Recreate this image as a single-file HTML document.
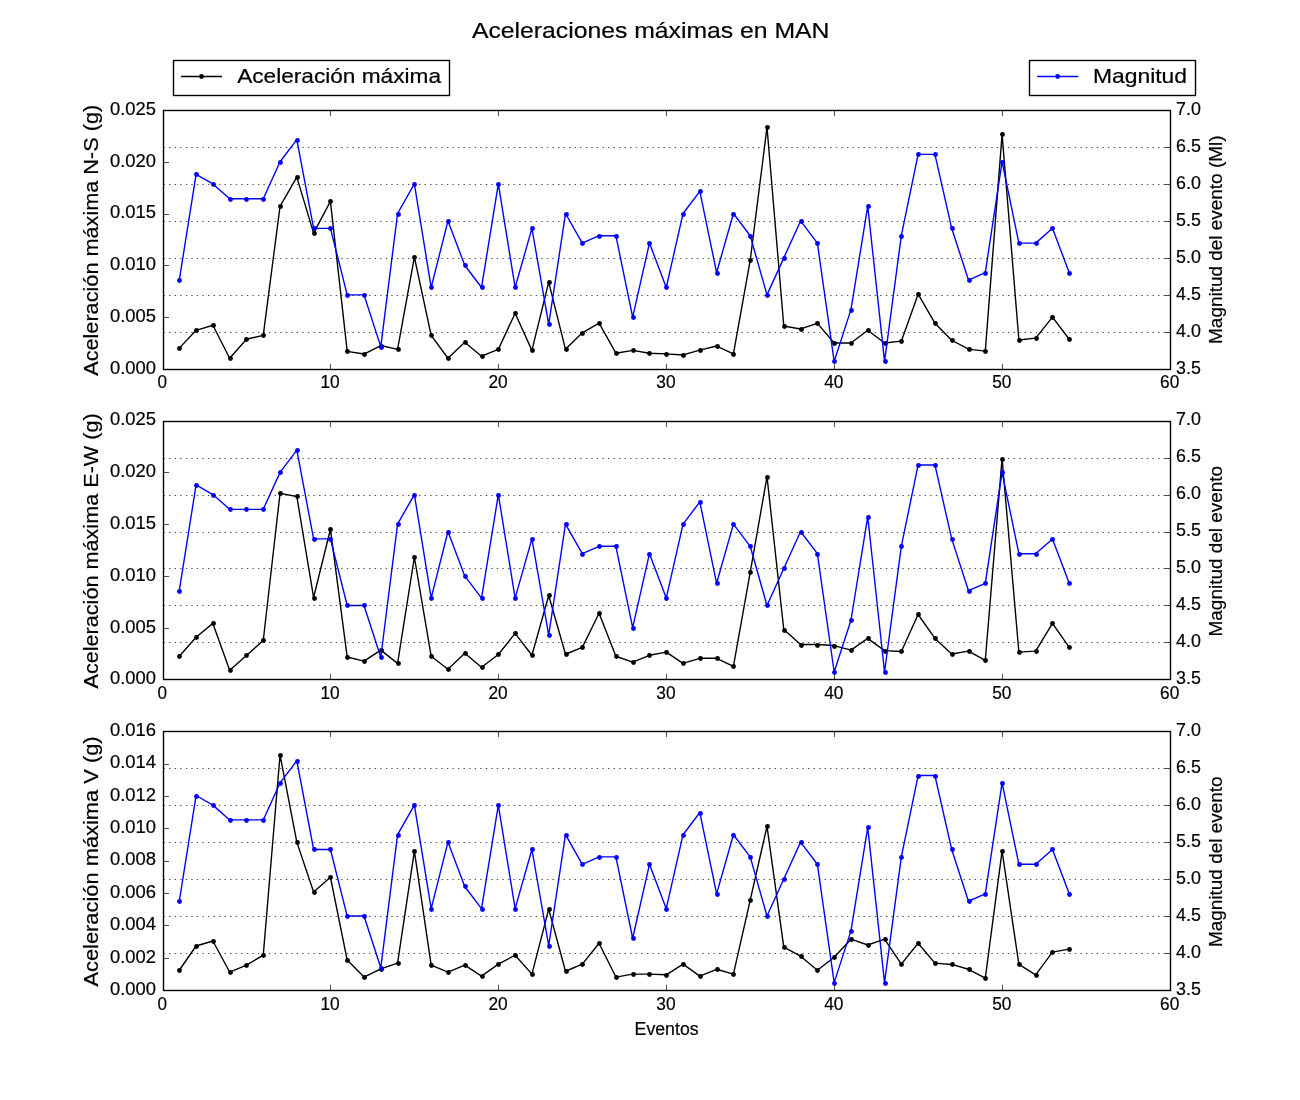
<!DOCTYPE html><html><head><meta charset="utf-8"><style>html,body{margin:0;padding:0;background:#fff;}svg{display:block;will-change:transform;}text{font-family:"Liberation Sans",sans-serif;fill:#000;stroke:#000;stroke-width:0.2px;}</style></head><body>
<svg width="1300" height="1100" viewBox="0 0 1300 1100">
<rect width="1300" height="1100" fill="#fff"/>
<polyline points="179.29,348.11 196.08,330.31 212.88,325.23 229.67,358.26 246.46,339.21 263.25,335.38 280.04,206.38 296.83,177.09 313.62,233.09 330.42,201.31 347.21,351.43 364.00,354.02 380.79,345.53 397.58,349.36 414.38,257.22 431.17,335.38 447.96,358.26 464.75,342.21 481.54,356.19 498.33,349.36 515.12,313.23 531.92,350.39 548.71,282.17 565.50,349.36 582.29,332.79 599.08,323.16 615.88,353.19 632.67,350.39 649.46,353.19 666.25,353.91 683.04,354.95 699.83,350.08 716.62,346.04 733.42,353.91 750.21,260.32 767.00,127.19 783.79,325.96 800.58,328.96 817.38,323.37 834.17,343.04 850.96,343.04 867.75,330.31 884.54,343.04 901.33,341.18 918.12,294.18 934.92,323.16 951.71,340.25 968.50,349.15 985.29,351.12 1002.08,134.33 1018.88,339.94 1035.67,338.18 1052.46,317.06 1069.25,339.21" fill="none" stroke="#000" stroke-width="1.389" stroke-linejoin="round" stroke-linecap="butt"/>
<circle cx="179.5" cy="348.5" r="2.43" fill="#000"/>
<circle cx="196.5" cy="330.5" r="2.43" fill="#000"/>
<circle cx="213.5" cy="325.5" r="2.43" fill="#000"/>
<circle cx="230.5" cy="358.5" r="2.43" fill="#000"/>
<circle cx="246.5" cy="339.5" r="2.43" fill="#000"/>
<circle cx="263.5" cy="335.5" r="2.43" fill="#000"/>
<circle cx="280.5" cy="206.5" r="2.43" fill="#000"/>
<circle cx="297.5" cy="177.5" r="2.43" fill="#000"/>
<circle cx="314.5" cy="233.5" r="2.43" fill="#000"/>
<circle cx="330.5" cy="201.5" r="2.43" fill="#000"/>
<circle cx="347.5" cy="351.5" r="2.43" fill="#000"/>
<circle cx="364.5" cy="354.5" r="2.43" fill="#000"/>
<circle cx="381.5" cy="346.5" r="2.43" fill="#000"/>
<circle cx="398.5" cy="349.5" r="2.43" fill="#000"/>
<circle cx="414.5" cy="257.5" r="2.43" fill="#000"/>
<circle cx="431.5" cy="335.5" r="2.43" fill="#000"/>
<circle cx="448.5" cy="358.5" r="2.43" fill="#000"/>
<circle cx="465.5" cy="342.5" r="2.43" fill="#000"/>
<circle cx="482.5" cy="356.5" r="2.43" fill="#000"/>
<circle cx="498.5" cy="349.5" r="2.43" fill="#000"/>
<circle cx="515.5" cy="313.5" r="2.43" fill="#000"/>
<circle cx="532.5" cy="350.5" r="2.43" fill="#000"/>
<circle cx="549.5" cy="282.5" r="2.43" fill="#000"/>
<circle cx="566.5" cy="349.5" r="2.43" fill="#000"/>
<circle cx="582.5" cy="333.5" r="2.43" fill="#000"/>
<circle cx="599.5" cy="323.5" r="2.43" fill="#000"/>
<circle cx="616.5" cy="353.5" r="2.43" fill="#000"/>
<circle cx="633.5" cy="350.5" r="2.43" fill="#000"/>
<circle cx="649.5" cy="353.5" r="2.43" fill="#000"/>
<circle cx="666.5" cy="354.5" r="2.43" fill="#000"/>
<circle cx="683.5" cy="355.5" r="2.43" fill="#000"/>
<circle cx="700.5" cy="350.5" r="2.43" fill="#000"/>
<circle cx="717.5" cy="346.5" r="2.43" fill="#000"/>
<circle cx="733.5" cy="354.5" r="2.43" fill="#000"/>
<circle cx="750.5" cy="260.5" r="2.43" fill="#000"/>
<circle cx="767.5" cy="127.5" r="2.43" fill="#000"/>
<circle cx="784.5" cy="326.5" r="2.43" fill="#000"/>
<circle cx="801.5" cy="329.5" r="2.43" fill="#000"/>
<circle cx="817.5" cy="323.5" r="2.43" fill="#000"/>
<circle cx="834.5" cy="343.5" r="2.43" fill="#000"/>
<circle cx="851.5" cy="343.5" r="2.43" fill="#000"/>
<circle cx="868.5" cy="330.5" r="2.43" fill="#000"/>
<circle cx="885.5" cy="343.5" r="2.43" fill="#000"/>
<circle cx="901.5" cy="341.5" r="2.43" fill="#000"/>
<circle cx="918.5" cy="294.5" r="2.43" fill="#000"/>
<circle cx="935.5" cy="323.5" r="2.43" fill="#000"/>
<circle cx="952.5" cy="340.5" r="2.43" fill="#000"/>
<circle cx="969.5" cy="349.5" r="2.43" fill="#000"/>
<circle cx="985.5" cy="351.5" r="2.43" fill="#000"/>
<circle cx="1002.5" cy="134.5" r="2.43" fill="#000"/>
<circle cx="1019.5" cy="340.5" r="2.43" fill="#000"/>
<circle cx="1036.5" cy="338.5" r="2.43" fill="#000"/>
<circle cx="1052.5" cy="317.5" r="2.43" fill="#000"/>
<circle cx="1069.5" cy="339.5" r="2.43" fill="#000"/>
<polyline points="179.29,280.08 196.08,174.34 212.88,183.95 229.67,198.74 246.46,198.74 263.25,198.74 280.04,161.76 296.83,139.58 313.62,228.32 330.42,228.32 347.21,294.87 364.00,294.87 380.79,346.64 397.58,213.53 414.38,183.95 431.17,287.48 447.96,220.92 464.75,265.29 481.54,287.48 498.33,183.95 515.12,287.48 531.92,228.32 548.71,324.45 565.50,213.53 582.29,243.11 599.08,235.71 615.88,235.71 632.67,317.06 649.46,243.11 666.25,287.48 683.04,213.53 699.83,191.34 716.62,272.69 733.42,213.53 750.21,235.71 767.00,294.87 783.79,257.90 800.58,220.92 817.38,243.11 834.17,361.43 850.96,309.66 867.75,206.13 884.54,361.43 901.33,235.71 918.12,154.37 934.92,154.37 951.71,228.32 968.50,280.08 985.29,272.69 1002.08,161.76 1018.88,243.11 1035.67,243.11 1052.46,228.32 1069.25,272.69" fill="none" stroke="#0000ff" stroke-width="1.389" stroke-linejoin="round"/>
<circle cx="179.5" cy="280.5" r="2.43" fill="#0000ff"/>
<circle cx="196.5" cy="174.5" r="2.43" fill="#0000ff"/>
<circle cx="213.5" cy="184.5" r="2.43" fill="#0000ff"/>
<circle cx="230.5" cy="199.5" r="2.43" fill="#0000ff"/>
<circle cx="246.5" cy="199.5" r="2.43" fill="#0000ff"/>
<circle cx="263.5" cy="199.5" r="2.43" fill="#0000ff"/>
<circle cx="280.5" cy="162.5" r="2.43" fill="#0000ff"/>
<circle cx="297.5" cy="140.5" r="2.43" fill="#0000ff"/>
<circle cx="314.5" cy="228.5" r="2.43" fill="#0000ff"/>
<circle cx="330.5" cy="228.5" r="2.43" fill="#0000ff"/>
<circle cx="347.5" cy="295.5" r="2.43" fill="#0000ff"/>
<circle cx="364.5" cy="295.5" r="2.43" fill="#0000ff"/>
<circle cx="381.5" cy="347.5" r="2.43" fill="#0000ff"/>
<circle cx="398.5" cy="214.5" r="2.43" fill="#0000ff"/>
<circle cx="414.5" cy="184.5" r="2.43" fill="#0000ff"/>
<circle cx="431.5" cy="287.5" r="2.43" fill="#0000ff"/>
<circle cx="448.5" cy="221.5" r="2.43" fill="#0000ff"/>
<circle cx="465.5" cy="265.5" r="2.43" fill="#0000ff"/>
<circle cx="482.5" cy="287.5" r="2.43" fill="#0000ff"/>
<circle cx="498.5" cy="184.5" r="2.43" fill="#0000ff"/>
<circle cx="515.5" cy="287.5" r="2.43" fill="#0000ff"/>
<circle cx="532.5" cy="228.5" r="2.43" fill="#0000ff"/>
<circle cx="549.5" cy="324.5" r="2.43" fill="#0000ff"/>
<circle cx="566.5" cy="214.5" r="2.43" fill="#0000ff"/>
<circle cx="582.5" cy="243.5" r="2.43" fill="#0000ff"/>
<circle cx="599.5" cy="236.5" r="2.43" fill="#0000ff"/>
<circle cx="616.5" cy="236.5" r="2.43" fill="#0000ff"/>
<circle cx="633.5" cy="317.5" r="2.43" fill="#0000ff"/>
<circle cx="649.5" cy="243.5" r="2.43" fill="#0000ff"/>
<circle cx="666.5" cy="287.5" r="2.43" fill="#0000ff"/>
<circle cx="683.5" cy="214.5" r="2.43" fill="#0000ff"/>
<circle cx="700.5" cy="191.5" r="2.43" fill="#0000ff"/>
<circle cx="717.5" cy="273.5" r="2.43" fill="#0000ff"/>
<circle cx="733.5" cy="214.5" r="2.43" fill="#0000ff"/>
<circle cx="750.5" cy="236.5" r="2.43" fill="#0000ff"/>
<circle cx="767.5" cy="295.5" r="2.43" fill="#0000ff"/>
<circle cx="784.5" cy="258.5" r="2.43" fill="#0000ff"/>
<circle cx="801.5" cy="221.5" r="2.43" fill="#0000ff"/>
<circle cx="817.5" cy="243.5" r="2.43" fill="#0000ff"/>
<circle cx="834.5" cy="361.5" r="2.43" fill="#0000ff"/>
<circle cx="851.5" cy="310.5" r="2.43" fill="#0000ff"/>
<circle cx="868.5" cy="206.5" r="2.43" fill="#0000ff"/>
<circle cx="885.5" cy="361.5" r="2.43" fill="#0000ff"/>
<circle cx="901.5" cy="236.5" r="2.43" fill="#0000ff"/>
<circle cx="918.5" cy="154.5" r="2.43" fill="#0000ff"/>
<circle cx="935.5" cy="154.5" r="2.43" fill="#0000ff"/>
<circle cx="952.5" cy="228.5" r="2.43" fill="#0000ff"/>
<circle cx="969.5" cy="280.5" r="2.43" fill="#0000ff"/>
<circle cx="985.5" cy="273.5" r="2.43" fill="#0000ff"/>
<circle cx="1002.5" cy="162.5" r="2.43" fill="#0000ff"/>
<circle cx="1019.5" cy="243.5" r="2.43" fill="#0000ff"/>
<circle cx="1036.5" cy="243.5" r="2.43" fill="#0000ff"/>
<circle cx="1052.5" cy="228.5" r="2.43" fill="#0000ff"/>
<circle cx="1069.5" cy="273.5" r="2.43" fill="#0000ff"/>
<line x1="163.5" y1="332.5" x2="1170.5" y2="332.5" stroke="#000" stroke-width="0.694" stroke-dasharray="1.389 4.167"/>
<line x1="163.5" y1="295.5" x2="1170.5" y2="295.5" stroke="#000" stroke-width="0.694" stroke-dasharray="1.389 4.167"/>
<line x1="163.5" y1="258.5" x2="1170.5" y2="258.5" stroke="#000" stroke-width="0.694" stroke-dasharray="1.389 4.167"/>
<line x1="163.5" y1="221.5" x2="1170.5" y2="221.5" stroke="#000" stroke-width="0.694" stroke-dasharray="1.389 4.167"/>
<line x1="163.5" y1="184.5" x2="1170.5" y2="184.5" stroke="#000" stroke-width="0.694" stroke-dasharray="1.389 4.167"/>
<line x1="163.5" y1="147.5" x2="1170.5" y2="147.5" stroke="#000" stroke-width="0.694" stroke-dasharray="1.389 4.167"/>
<rect x="163.5" y="110.5" width="1007.0" height="259.0" fill="none" stroke="#000" stroke-width="1.389"/>
<line x1="330.5" y1="369.5" x2="330.5" y2="363.944" stroke="#000" stroke-width="0.694"/>
<line x1="330.5" y1="110.5" x2="330.5" y2="116.056" stroke="#000" stroke-width="0.694"/>
<line x1="498.5" y1="369.5" x2="498.5" y2="363.944" stroke="#000" stroke-width="0.694"/>
<line x1="498.5" y1="110.5" x2="498.5" y2="116.056" stroke="#000" stroke-width="0.694"/>
<line x1="666.5" y1="369.5" x2="666.5" y2="363.944" stroke="#000" stroke-width="0.694"/>
<line x1="666.5" y1="110.5" x2="666.5" y2="116.056" stroke="#000" stroke-width="0.694"/>
<line x1="834.5" y1="369.5" x2="834.5" y2="363.944" stroke="#000" stroke-width="0.694"/>
<line x1="834.5" y1="110.5" x2="834.5" y2="116.056" stroke="#000" stroke-width="0.694"/>
<line x1="1002.5" y1="369.5" x2="1002.5" y2="363.944" stroke="#000" stroke-width="0.694"/>
<line x1="1002.5" y1="110.5" x2="1002.5" y2="116.056" stroke="#000" stroke-width="0.694"/>
<line x1="163.5" y1="317.5" x2="169.056" y2="317.5" stroke="#000" stroke-width="0.694"/>
<line x1="163.5" y1="265.5" x2="169.056" y2="265.5" stroke="#000" stroke-width="0.694"/>
<line x1="163.5" y1="214.5" x2="169.056" y2="214.5" stroke="#000" stroke-width="0.694"/>
<line x1="163.5" y1="162.5" x2="169.056" y2="162.5" stroke="#000" stroke-width="0.694"/>
<line x1="1170.5" y1="332.5" x2="1164.944" y2="332.5" stroke="#000" stroke-width="0.694"/>
<line x1="1170.5" y1="295.5" x2="1164.944" y2="295.5" stroke="#000" stroke-width="0.694"/>
<line x1="1170.5" y1="258.5" x2="1164.944" y2="258.5" stroke="#000" stroke-width="0.694"/>
<line x1="1170.5" y1="221.5" x2="1164.944" y2="221.5" stroke="#000" stroke-width="0.694"/>
<line x1="1170.5" y1="184.5" x2="1164.944" y2="184.5" stroke="#000" stroke-width="0.694"/>
<line x1="1170.5" y1="147.5" x2="1164.944" y2="147.5" stroke="#000" stroke-width="0.694"/>
<text x="156.00" y="373.72" font-size="17.80" textLength="46.00" lengthAdjust="spacingAndGlyphs" text-anchor="end">0.000</text>
<text x="156.00" y="321.96" font-size="17.80" textLength="46.00" lengthAdjust="spacingAndGlyphs" text-anchor="end">0.005</text>
<text x="156.00" y="270.19" font-size="17.80" textLength="46.00" lengthAdjust="spacingAndGlyphs" text-anchor="end">0.010</text>
<text x="156.00" y="218.43" font-size="17.80" textLength="46.00" lengthAdjust="spacingAndGlyphs" text-anchor="end">0.015</text>
<text x="156.00" y="166.66" font-size="17.80" textLength="46.00" lengthAdjust="spacingAndGlyphs" text-anchor="end">0.020</text>
<text x="156.00" y="114.90" font-size="17.80" textLength="46.00" lengthAdjust="spacingAndGlyphs" text-anchor="end">0.025</text>
<text x="1176.00" y="373.72" font-size="17.80" textLength="24.80" lengthAdjust="spacingAndGlyphs">3.5</text>
<text x="1176.00" y="336.75" font-size="17.80" textLength="24.80" lengthAdjust="spacingAndGlyphs">4.0</text>
<text x="1176.00" y="299.77" font-size="17.80" textLength="24.80" lengthAdjust="spacingAndGlyphs">4.5</text>
<text x="1176.00" y="262.80" font-size="17.80" textLength="24.80" lengthAdjust="spacingAndGlyphs">5.0</text>
<text x="1176.00" y="225.82" font-size="17.80" textLength="24.80" lengthAdjust="spacingAndGlyphs">5.5</text>
<text x="1176.00" y="188.85" font-size="17.80" textLength="24.80" lengthAdjust="spacingAndGlyphs">6.0</text>
<text x="1176.00" y="151.87" font-size="17.80" textLength="24.80" lengthAdjust="spacingAndGlyphs">6.5</text>
<text x="1176.00" y="114.90" font-size="17.80" textLength="24.80" lengthAdjust="spacingAndGlyphs">7.0</text>
<text x="157.45" y="387.70" font-size="17.80" textLength="9.50" lengthAdjust="spacingAndGlyphs">0</text>
<text x="320.52" y="387.70" font-size="17.80" textLength="19.20" lengthAdjust="spacingAndGlyphs">10</text>
<text x="488.43" y="387.70" font-size="17.80" textLength="19.20" lengthAdjust="spacingAndGlyphs">20</text>
<text x="656.35" y="387.70" font-size="17.80" textLength="19.20" lengthAdjust="spacingAndGlyphs">30</text>
<text x="824.27" y="387.70" font-size="17.80" textLength="19.20" lengthAdjust="spacingAndGlyphs">40</text>
<text x="992.18" y="387.70" font-size="17.80" textLength="19.20" lengthAdjust="spacingAndGlyphs">50</text>
<text x="1160.10" y="387.70" font-size="17.80" textLength="19.20" lengthAdjust="spacingAndGlyphs">60</text>
<text x="97.80" y="375.81" font-size="19.50" textLength="271.00" lengthAdjust="spacingAndGlyphs" transform="rotate(-90 97.80 375.81)">Aceleración máxima N-S (g)</text>
<text x="1222.00" y="343.91" font-size="18.50" textLength="208.40" lengthAdjust="spacingAndGlyphs" transform="rotate(-90 1222.00 343.91)">Magnitud del evento (Ml)</text>
<polyline points="179.29,656.22 196.08,637.17 212.88,623.40 229.67,670.30 246.46,655.50 263.25,640.48 280.04,493.37 296.83,496.48 313.62,597.52 330.42,529.29 347.21,657.05 364.00,661.09 380.79,650.11 397.58,663.36 414.38,557.25 431.17,656.22 447.96,669.26 464.75,653.22 481.54,667.19 498.33,654.46 515.12,633.44 531.92,655.29 548.71,595.45 565.50,654.25 582.29,647.32 599.08,613.26 615.88,656.22 632.67,662.12 649.46,655.29 666.25,652.18 683.04,663.36 699.83,658.29 716.62,658.29 733.42,666.47 750.21,572.26 767.00,476.60 783.79,629.51 800.58,644.52 817.38,644.52 834.17,645.56 850.96,650.11 867.75,638.41 884.54,650.63 901.33,651.46 918.12,614.50 934.92,638.41 951.71,653.94 968.50,651.15 985.29,660.36 1002.08,458.58 1018.88,652.18 1035.67,651.15 1052.46,623.40 1069.25,647.32" fill="none" stroke="#000" stroke-width="1.389" stroke-linejoin="round" stroke-linecap="butt"/>
<circle cx="179.5" cy="656.5" r="2.43" fill="#000"/>
<circle cx="196.5" cy="637.5" r="2.43" fill="#000"/>
<circle cx="213.5" cy="623.5" r="2.43" fill="#000"/>
<circle cx="230.5" cy="670.5" r="2.43" fill="#000"/>
<circle cx="246.5" cy="655.5" r="2.43" fill="#000"/>
<circle cx="263.5" cy="640.5" r="2.43" fill="#000"/>
<circle cx="280.5" cy="493.5" r="2.43" fill="#000"/>
<circle cx="297.5" cy="496.5" r="2.43" fill="#000"/>
<circle cx="314.5" cy="598.5" r="2.43" fill="#000"/>
<circle cx="330.5" cy="529.5" r="2.43" fill="#000"/>
<circle cx="347.5" cy="657.5" r="2.43" fill="#000"/>
<circle cx="364.5" cy="661.5" r="2.43" fill="#000"/>
<circle cx="381.5" cy="650.5" r="2.43" fill="#000"/>
<circle cx="398.5" cy="663.5" r="2.43" fill="#000"/>
<circle cx="414.5" cy="557.5" r="2.43" fill="#000"/>
<circle cx="431.5" cy="656.5" r="2.43" fill="#000"/>
<circle cx="448.5" cy="669.5" r="2.43" fill="#000"/>
<circle cx="465.5" cy="653.5" r="2.43" fill="#000"/>
<circle cx="482.5" cy="667.5" r="2.43" fill="#000"/>
<circle cx="498.5" cy="654.5" r="2.43" fill="#000"/>
<circle cx="515.5" cy="633.5" r="2.43" fill="#000"/>
<circle cx="532.5" cy="655.5" r="2.43" fill="#000"/>
<circle cx="549.5" cy="595.5" r="2.43" fill="#000"/>
<circle cx="566.5" cy="654.5" r="2.43" fill="#000"/>
<circle cx="582.5" cy="647.5" r="2.43" fill="#000"/>
<circle cx="599.5" cy="613.5" r="2.43" fill="#000"/>
<circle cx="616.5" cy="656.5" r="2.43" fill="#000"/>
<circle cx="633.5" cy="662.5" r="2.43" fill="#000"/>
<circle cx="649.5" cy="655.5" r="2.43" fill="#000"/>
<circle cx="666.5" cy="652.5" r="2.43" fill="#000"/>
<circle cx="683.5" cy="663.5" r="2.43" fill="#000"/>
<circle cx="700.5" cy="658.5" r="2.43" fill="#000"/>
<circle cx="717.5" cy="658.5" r="2.43" fill="#000"/>
<circle cx="733.5" cy="666.5" r="2.43" fill="#000"/>
<circle cx="750.5" cy="572.5" r="2.43" fill="#000"/>
<circle cx="767.5" cy="477.5" r="2.43" fill="#000"/>
<circle cx="784.5" cy="630.5" r="2.43" fill="#000"/>
<circle cx="801.5" cy="645.5" r="2.43" fill="#000"/>
<circle cx="817.5" cy="645.5" r="2.43" fill="#000"/>
<circle cx="834.5" cy="646.5" r="2.43" fill="#000"/>
<circle cx="851.5" cy="650.5" r="2.43" fill="#000"/>
<circle cx="868.5" cy="638.5" r="2.43" fill="#000"/>
<circle cx="885.5" cy="651.5" r="2.43" fill="#000"/>
<circle cx="901.5" cy="651.5" r="2.43" fill="#000"/>
<circle cx="918.5" cy="614.5" r="2.43" fill="#000"/>
<circle cx="935.5" cy="638.5" r="2.43" fill="#000"/>
<circle cx="952.5" cy="654.5" r="2.43" fill="#000"/>
<circle cx="969.5" cy="651.5" r="2.43" fill="#000"/>
<circle cx="985.5" cy="660.5" r="2.43" fill="#000"/>
<circle cx="1002.5" cy="459.5" r="2.43" fill="#000"/>
<circle cx="1019.5" cy="652.5" r="2.43" fill="#000"/>
<circle cx="1036.5" cy="651.5" r="2.43" fill="#000"/>
<circle cx="1052.5" cy="623.5" r="2.43" fill="#000"/>
<circle cx="1069.5" cy="647.5" r="2.43" fill="#000"/>
<polyline points="179.29,590.67 196.08,484.93 212.88,494.54 229.67,509.33 246.46,509.33 263.25,509.33 280.04,472.35 296.83,450.17 313.62,538.91 330.42,538.91 347.21,605.46 364.00,605.46 380.79,657.23 397.58,524.12 414.38,494.54 431.17,598.07 447.96,531.51 464.75,575.88 481.54,598.07 498.33,494.54 515.12,598.07 531.92,538.91 548.71,635.04 565.50,524.12 582.29,553.70 599.08,546.30 615.88,546.30 632.67,627.65 649.46,553.70 666.25,598.07 683.04,524.12 699.83,501.93 716.62,583.28 733.42,524.12 750.21,546.30 767.00,605.46 783.79,568.49 800.58,531.51 817.38,553.70 834.17,672.02 850.96,620.25 867.75,516.72 884.54,672.02 901.33,546.30 918.12,464.96 934.92,464.96 951.71,538.91 968.50,590.67 985.29,583.28 1002.08,472.35 1018.88,553.70 1035.67,553.70 1052.46,538.91 1069.25,583.28" fill="none" stroke="#0000ff" stroke-width="1.389" stroke-linejoin="round"/>
<circle cx="179.5" cy="591.5" r="2.43" fill="#0000ff"/>
<circle cx="196.5" cy="485.5" r="2.43" fill="#0000ff"/>
<circle cx="213.5" cy="495.5" r="2.43" fill="#0000ff"/>
<circle cx="230.5" cy="509.5" r="2.43" fill="#0000ff"/>
<circle cx="246.5" cy="509.5" r="2.43" fill="#0000ff"/>
<circle cx="263.5" cy="509.5" r="2.43" fill="#0000ff"/>
<circle cx="280.5" cy="472.5" r="2.43" fill="#0000ff"/>
<circle cx="297.5" cy="450.5" r="2.43" fill="#0000ff"/>
<circle cx="314.5" cy="539.5" r="2.43" fill="#0000ff"/>
<circle cx="330.5" cy="539.5" r="2.43" fill="#0000ff"/>
<circle cx="347.5" cy="605.5" r="2.43" fill="#0000ff"/>
<circle cx="364.5" cy="605.5" r="2.43" fill="#0000ff"/>
<circle cx="381.5" cy="657.5" r="2.43" fill="#0000ff"/>
<circle cx="398.5" cy="524.5" r="2.43" fill="#0000ff"/>
<circle cx="414.5" cy="495.5" r="2.43" fill="#0000ff"/>
<circle cx="431.5" cy="598.5" r="2.43" fill="#0000ff"/>
<circle cx="448.5" cy="532.5" r="2.43" fill="#0000ff"/>
<circle cx="465.5" cy="576.5" r="2.43" fill="#0000ff"/>
<circle cx="482.5" cy="598.5" r="2.43" fill="#0000ff"/>
<circle cx="498.5" cy="495.5" r="2.43" fill="#0000ff"/>
<circle cx="515.5" cy="598.5" r="2.43" fill="#0000ff"/>
<circle cx="532.5" cy="539.5" r="2.43" fill="#0000ff"/>
<circle cx="549.5" cy="635.5" r="2.43" fill="#0000ff"/>
<circle cx="566.5" cy="524.5" r="2.43" fill="#0000ff"/>
<circle cx="582.5" cy="554.5" r="2.43" fill="#0000ff"/>
<circle cx="599.5" cy="546.5" r="2.43" fill="#0000ff"/>
<circle cx="616.5" cy="546.5" r="2.43" fill="#0000ff"/>
<circle cx="633.5" cy="628.5" r="2.43" fill="#0000ff"/>
<circle cx="649.5" cy="554.5" r="2.43" fill="#0000ff"/>
<circle cx="666.5" cy="598.5" r="2.43" fill="#0000ff"/>
<circle cx="683.5" cy="524.5" r="2.43" fill="#0000ff"/>
<circle cx="700.5" cy="502.5" r="2.43" fill="#0000ff"/>
<circle cx="717.5" cy="583.5" r="2.43" fill="#0000ff"/>
<circle cx="733.5" cy="524.5" r="2.43" fill="#0000ff"/>
<circle cx="750.5" cy="546.5" r="2.43" fill="#0000ff"/>
<circle cx="767.5" cy="605.5" r="2.43" fill="#0000ff"/>
<circle cx="784.5" cy="568.5" r="2.43" fill="#0000ff"/>
<circle cx="801.5" cy="532.5" r="2.43" fill="#0000ff"/>
<circle cx="817.5" cy="554.5" r="2.43" fill="#0000ff"/>
<circle cx="834.5" cy="672.5" r="2.43" fill="#0000ff"/>
<circle cx="851.5" cy="620.5" r="2.43" fill="#0000ff"/>
<circle cx="868.5" cy="517.5" r="2.43" fill="#0000ff"/>
<circle cx="885.5" cy="672.5" r="2.43" fill="#0000ff"/>
<circle cx="901.5" cy="546.5" r="2.43" fill="#0000ff"/>
<circle cx="918.5" cy="465.5" r="2.43" fill="#0000ff"/>
<circle cx="935.5" cy="465.5" r="2.43" fill="#0000ff"/>
<circle cx="952.5" cy="539.5" r="2.43" fill="#0000ff"/>
<circle cx="969.5" cy="591.5" r="2.43" fill="#0000ff"/>
<circle cx="985.5" cy="583.5" r="2.43" fill="#0000ff"/>
<circle cx="1002.5" cy="472.5" r="2.43" fill="#0000ff"/>
<circle cx="1019.5" cy="554.5" r="2.43" fill="#0000ff"/>
<circle cx="1036.5" cy="554.5" r="2.43" fill="#0000ff"/>
<circle cx="1052.5" cy="539.5" r="2.43" fill="#0000ff"/>
<circle cx="1069.5" cy="583.5" r="2.43" fill="#0000ff"/>
<line x1="163.5" y1="642.5" x2="1170.5" y2="642.5" stroke="#000" stroke-width="0.694" stroke-dasharray="1.389 4.167"/>
<line x1="163.5" y1="605.5" x2="1170.5" y2="605.5" stroke="#000" stroke-width="0.694" stroke-dasharray="1.389 4.167"/>
<line x1="163.5" y1="568.5" x2="1170.5" y2="568.5" stroke="#000" stroke-width="0.694" stroke-dasharray="1.389 4.167"/>
<line x1="163.5" y1="532.5" x2="1170.5" y2="532.5" stroke="#000" stroke-width="0.694" stroke-dasharray="1.389 4.167"/>
<line x1="163.5" y1="495.5" x2="1170.5" y2="495.5" stroke="#000" stroke-width="0.694" stroke-dasharray="1.389 4.167"/>
<line x1="163.5" y1="458.5" x2="1170.5" y2="458.5" stroke="#000" stroke-width="0.694" stroke-dasharray="1.389 4.167"/>
<rect x="163.5" y="421.5" width="1007.0" height="258.0" fill="none" stroke="#000" stroke-width="1.389"/>
<line x1="330.5" y1="679.5" x2="330.5" y2="673.944" stroke="#000" stroke-width="0.694"/>
<line x1="330.5" y1="421.5" x2="330.5" y2="427.056" stroke="#000" stroke-width="0.694"/>
<line x1="498.5" y1="679.5" x2="498.5" y2="673.944" stroke="#000" stroke-width="0.694"/>
<line x1="498.5" y1="421.5" x2="498.5" y2="427.056" stroke="#000" stroke-width="0.694"/>
<line x1="666.5" y1="679.5" x2="666.5" y2="673.944" stroke="#000" stroke-width="0.694"/>
<line x1="666.5" y1="421.5" x2="666.5" y2="427.056" stroke="#000" stroke-width="0.694"/>
<line x1="834.5" y1="679.5" x2="834.5" y2="673.944" stroke="#000" stroke-width="0.694"/>
<line x1="834.5" y1="421.5" x2="834.5" y2="427.056" stroke="#000" stroke-width="0.694"/>
<line x1="1002.5" y1="679.5" x2="1002.5" y2="673.944" stroke="#000" stroke-width="0.694"/>
<line x1="1002.5" y1="421.5" x2="1002.5" y2="427.056" stroke="#000" stroke-width="0.694"/>
<line x1="163.5" y1="628.5" x2="169.056" y2="628.5" stroke="#000" stroke-width="0.694"/>
<line x1="163.5" y1="576.5" x2="169.056" y2="576.5" stroke="#000" stroke-width="0.694"/>
<line x1="163.5" y1="524.5" x2="169.056" y2="524.5" stroke="#000" stroke-width="0.694"/>
<line x1="163.5" y1="472.5" x2="169.056" y2="472.5" stroke="#000" stroke-width="0.694"/>
<line x1="1170.5" y1="642.5" x2="1164.944" y2="642.5" stroke="#000" stroke-width="0.694"/>
<line x1="1170.5" y1="605.5" x2="1164.944" y2="605.5" stroke="#000" stroke-width="0.694"/>
<line x1="1170.5" y1="568.5" x2="1164.944" y2="568.5" stroke="#000" stroke-width="0.694"/>
<line x1="1170.5" y1="532.5" x2="1164.944" y2="532.5" stroke="#000" stroke-width="0.694"/>
<line x1="1170.5" y1="495.5" x2="1164.944" y2="495.5" stroke="#000" stroke-width="0.694"/>
<line x1="1170.5" y1="458.5" x2="1164.944" y2="458.5" stroke="#000" stroke-width="0.694"/>
<text x="156.00" y="684.31" font-size="17.80" textLength="46.00" lengthAdjust="spacingAndGlyphs" text-anchor="end">0.000</text>
<text x="156.00" y="632.55" font-size="17.80" textLength="46.00" lengthAdjust="spacingAndGlyphs" text-anchor="end">0.005</text>
<text x="156.00" y="580.78" font-size="17.80" textLength="46.00" lengthAdjust="spacingAndGlyphs" text-anchor="end">0.010</text>
<text x="156.00" y="529.02" font-size="17.80" textLength="46.00" lengthAdjust="spacingAndGlyphs" text-anchor="end">0.015</text>
<text x="156.00" y="477.25" font-size="17.80" textLength="46.00" lengthAdjust="spacingAndGlyphs" text-anchor="end">0.020</text>
<text x="156.00" y="425.49" font-size="17.80" textLength="46.00" lengthAdjust="spacingAndGlyphs" text-anchor="end">0.025</text>
<text x="1176.00" y="684.31" font-size="17.80" textLength="24.80" lengthAdjust="spacingAndGlyphs">3.5</text>
<text x="1176.00" y="647.34" font-size="17.80" textLength="24.80" lengthAdjust="spacingAndGlyphs">4.0</text>
<text x="1176.00" y="610.36" font-size="17.80" textLength="24.80" lengthAdjust="spacingAndGlyphs">4.5</text>
<text x="1176.00" y="573.39" font-size="17.80" textLength="24.80" lengthAdjust="spacingAndGlyphs">5.0</text>
<text x="1176.00" y="536.41" font-size="17.80" textLength="24.80" lengthAdjust="spacingAndGlyphs">5.5</text>
<text x="1176.00" y="499.44" font-size="17.80" textLength="24.80" lengthAdjust="spacingAndGlyphs">6.0</text>
<text x="1176.00" y="462.46" font-size="17.80" textLength="24.80" lengthAdjust="spacingAndGlyphs">6.5</text>
<text x="1176.00" y="425.49" font-size="17.80" textLength="24.80" lengthAdjust="spacingAndGlyphs">7.0</text>
<text x="157.45" y="698.60" font-size="17.80" textLength="9.50" lengthAdjust="spacingAndGlyphs">0</text>
<text x="320.52" y="698.60" font-size="17.80" textLength="19.20" lengthAdjust="spacingAndGlyphs">10</text>
<text x="488.43" y="698.60" font-size="17.80" textLength="19.20" lengthAdjust="spacingAndGlyphs">20</text>
<text x="656.35" y="698.60" font-size="17.80" textLength="19.20" lengthAdjust="spacingAndGlyphs">30</text>
<text x="824.27" y="698.60" font-size="17.80" textLength="19.20" lengthAdjust="spacingAndGlyphs">40</text>
<text x="992.18" y="698.60" font-size="17.80" textLength="19.20" lengthAdjust="spacingAndGlyphs">50</text>
<text x="1160.10" y="698.60" font-size="17.80" textLength="19.20" lengthAdjust="spacingAndGlyphs">60</text>
<text x="97.80" y="688.55" font-size="19.50" textLength="275.30" lengthAdjust="spacingAndGlyphs" transform="rotate(-90 97.80 688.55)">Aceleración máxima E-W (g)</text>
<text x="1222.00" y="636.45" font-size="18.50" textLength="170.60" lengthAdjust="spacingAndGlyphs" transform="rotate(-90 1222.00 636.45)">Magnitud del evento</text>
<polyline points="179.29,970.26 196.08,946.00 212.88,940.99 229.67,972.04 246.46,965.09 263.25,955.22 280.04,754.96 296.83,842.15 313.62,891.97 330.42,877.25 347.21,960.07 364.00,977.06 380.79,968.81 397.58,963.15 414.38,851.05 431.17,965.09 447.96,972.04 464.75,965.09 481.54,976.09 498.33,964.12 515.12,955.22 531.92,974.15 548.71,909.12 565.50,971.24 582.29,964.12 599.08,943.25 615.88,977.06 632.67,974.15 649.46,974.15 666.25,974.79 683.04,964.12 699.83,976.09 716.62,969.29 733.42,974.15 750.21,900.22 767.00,826.30 783.79,947.13 800.58,956.19 817.38,970.26 834.17,957.32 850.96,939.21 867.75,945.03 884.54,939.21 901.33,964.12 918.12,943.25 934.92,963.15 951.71,964.44 968.50,969.29 985.29,978.19 1002.08,851.05 1018.88,964.44 1035.67,974.79 1052.46,952.15 1069.25,949.07" fill="none" stroke="#000" stroke-width="1.389" stroke-linejoin="round" stroke-linecap="butt"/>
<circle cx="179.5" cy="970.5" r="2.43" fill="#000"/>
<circle cx="196.5" cy="946.5" r="2.43" fill="#000"/>
<circle cx="213.5" cy="941.5" r="2.43" fill="#000"/>
<circle cx="230.5" cy="972.5" r="2.43" fill="#000"/>
<circle cx="246.5" cy="965.5" r="2.43" fill="#000"/>
<circle cx="263.5" cy="955.5" r="2.43" fill="#000"/>
<circle cx="280.5" cy="755.5" r="2.43" fill="#000"/>
<circle cx="297.5" cy="842.5" r="2.43" fill="#000"/>
<circle cx="314.5" cy="892.5" r="2.43" fill="#000"/>
<circle cx="330.5" cy="877.5" r="2.43" fill="#000"/>
<circle cx="347.5" cy="960.5" r="2.43" fill="#000"/>
<circle cx="364.5" cy="977.5" r="2.43" fill="#000"/>
<circle cx="381.5" cy="969.5" r="2.43" fill="#000"/>
<circle cx="398.5" cy="963.5" r="2.43" fill="#000"/>
<circle cx="414.5" cy="851.5" r="2.43" fill="#000"/>
<circle cx="431.5" cy="965.5" r="2.43" fill="#000"/>
<circle cx="448.5" cy="972.5" r="2.43" fill="#000"/>
<circle cx="465.5" cy="965.5" r="2.43" fill="#000"/>
<circle cx="482.5" cy="976.5" r="2.43" fill="#000"/>
<circle cx="498.5" cy="964.5" r="2.43" fill="#000"/>
<circle cx="515.5" cy="955.5" r="2.43" fill="#000"/>
<circle cx="532.5" cy="974.5" r="2.43" fill="#000"/>
<circle cx="549.5" cy="909.5" r="2.43" fill="#000"/>
<circle cx="566.5" cy="971.5" r="2.43" fill="#000"/>
<circle cx="582.5" cy="964.5" r="2.43" fill="#000"/>
<circle cx="599.5" cy="943.5" r="2.43" fill="#000"/>
<circle cx="616.5" cy="977.5" r="2.43" fill="#000"/>
<circle cx="633.5" cy="974.5" r="2.43" fill="#000"/>
<circle cx="649.5" cy="974.5" r="2.43" fill="#000"/>
<circle cx="666.5" cy="975.5" r="2.43" fill="#000"/>
<circle cx="683.5" cy="964.5" r="2.43" fill="#000"/>
<circle cx="700.5" cy="976.5" r="2.43" fill="#000"/>
<circle cx="717.5" cy="969.5" r="2.43" fill="#000"/>
<circle cx="733.5" cy="974.5" r="2.43" fill="#000"/>
<circle cx="750.5" cy="900.5" r="2.43" fill="#000"/>
<circle cx="767.5" cy="826.5" r="2.43" fill="#000"/>
<circle cx="784.5" cy="947.5" r="2.43" fill="#000"/>
<circle cx="801.5" cy="956.5" r="2.43" fill="#000"/>
<circle cx="817.5" cy="970.5" r="2.43" fill="#000"/>
<circle cx="834.5" cy="957.5" r="2.43" fill="#000"/>
<circle cx="851.5" cy="939.5" r="2.43" fill="#000"/>
<circle cx="868.5" cy="945.5" r="2.43" fill="#000"/>
<circle cx="885.5" cy="939.5" r="2.43" fill="#000"/>
<circle cx="901.5" cy="964.5" r="2.43" fill="#000"/>
<circle cx="918.5" cy="943.5" r="2.43" fill="#000"/>
<circle cx="935.5" cy="963.5" r="2.43" fill="#000"/>
<circle cx="952.5" cy="964.5" r="2.43" fill="#000"/>
<circle cx="969.5" cy="969.5" r="2.43" fill="#000"/>
<circle cx="985.5" cy="978.5" r="2.43" fill="#000"/>
<circle cx="1002.5" cy="851.5" r="2.43" fill="#000"/>
<circle cx="1019.5" cy="964.5" r="2.43" fill="#000"/>
<circle cx="1036.5" cy="975.5" r="2.43" fill="#000"/>
<circle cx="1052.5" cy="952.5" r="2.43" fill="#000"/>
<circle cx="1069.5" cy="949.5" r="2.43" fill="#000"/>
<polyline points="179.29,901.26 196.08,795.52 212.88,805.13 229.67,819.92 246.46,819.92 263.25,819.92 280.04,782.94 296.83,760.76 313.62,849.50 330.42,849.50 347.21,916.05 364.00,916.05 380.79,967.82 397.58,834.71 414.38,805.13 431.17,908.66 447.96,842.10 464.75,886.47 481.54,908.66 498.33,805.13 515.12,908.66 531.92,849.50 548.71,945.63 565.50,834.71 582.29,864.29 599.08,856.89 615.88,856.89 632.67,938.24 649.46,864.29 666.25,908.66 683.04,834.71 699.83,812.52 716.62,893.87 733.42,834.71 750.21,856.89 767.00,916.05 783.79,879.08 800.58,842.10 817.38,864.29 834.17,982.61 850.96,930.84 867.75,827.31 884.54,982.61 901.33,856.89 918.12,775.55 934.92,775.55 951.71,849.50 968.50,901.26 985.29,893.87 1002.08,782.94 1018.88,864.29 1035.67,864.29 1052.46,849.50 1069.25,893.87" fill="none" stroke="#0000ff" stroke-width="1.389" stroke-linejoin="round"/>
<circle cx="179.5" cy="901.5" r="2.43" fill="#0000ff"/>
<circle cx="196.5" cy="796.5" r="2.43" fill="#0000ff"/>
<circle cx="213.5" cy="805.5" r="2.43" fill="#0000ff"/>
<circle cx="230.5" cy="820.5" r="2.43" fill="#0000ff"/>
<circle cx="246.5" cy="820.5" r="2.43" fill="#0000ff"/>
<circle cx="263.5" cy="820.5" r="2.43" fill="#0000ff"/>
<circle cx="280.5" cy="783.5" r="2.43" fill="#0000ff"/>
<circle cx="297.5" cy="761.5" r="2.43" fill="#0000ff"/>
<circle cx="314.5" cy="849.5" r="2.43" fill="#0000ff"/>
<circle cx="330.5" cy="849.5" r="2.43" fill="#0000ff"/>
<circle cx="347.5" cy="916.5" r="2.43" fill="#0000ff"/>
<circle cx="364.5" cy="916.5" r="2.43" fill="#0000ff"/>
<circle cx="381.5" cy="968.5" r="2.43" fill="#0000ff"/>
<circle cx="398.5" cy="835.5" r="2.43" fill="#0000ff"/>
<circle cx="414.5" cy="805.5" r="2.43" fill="#0000ff"/>
<circle cx="431.5" cy="909.5" r="2.43" fill="#0000ff"/>
<circle cx="448.5" cy="842.5" r="2.43" fill="#0000ff"/>
<circle cx="465.5" cy="886.5" r="2.43" fill="#0000ff"/>
<circle cx="482.5" cy="909.5" r="2.43" fill="#0000ff"/>
<circle cx="498.5" cy="805.5" r="2.43" fill="#0000ff"/>
<circle cx="515.5" cy="909.5" r="2.43" fill="#0000ff"/>
<circle cx="532.5" cy="849.5" r="2.43" fill="#0000ff"/>
<circle cx="549.5" cy="946.5" r="2.43" fill="#0000ff"/>
<circle cx="566.5" cy="835.5" r="2.43" fill="#0000ff"/>
<circle cx="582.5" cy="864.5" r="2.43" fill="#0000ff"/>
<circle cx="599.5" cy="857.5" r="2.43" fill="#0000ff"/>
<circle cx="616.5" cy="857.5" r="2.43" fill="#0000ff"/>
<circle cx="633.5" cy="938.5" r="2.43" fill="#0000ff"/>
<circle cx="649.5" cy="864.5" r="2.43" fill="#0000ff"/>
<circle cx="666.5" cy="909.5" r="2.43" fill="#0000ff"/>
<circle cx="683.5" cy="835.5" r="2.43" fill="#0000ff"/>
<circle cx="700.5" cy="813.5" r="2.43" fill="#0000ff"/>
<circle cx="717.5" cy="894.5" r="2.43" fill="#0000ff"/>
<circle cx="733.5" cy="835.5" r="2.43" fill="#0000ff"/>
<circle cx="750.5" cy="857.5" r="2.43" fill="#0000ff"/>
<circle cx="767.5" cy="916.5" r="2.43" fill="#0000ff"/>
<circle cx="784.5" cy="879.5" r="2.43" fill="#0000ff"/>
<circle cx="801.5" cy="842.5" r="2.43" fill="#0000ff"/>
<circle cx="817.5" cy="864.5" r="2.43" fill="#0000ff"/>
<circle cx="834.5" cy="983.5" r="2.43" fill="#0000ff"/>
<circle cx="851.5" cy="931.5" r="2.43" fill="#0000ff"/>
<circle cx="868.5" cy="827.5" r="2.43" fill="#0000ff"/>
<circle cx="885.5" cy="983.5" r="2.43" fill="#0000ff"/>
<circle cx="901.5" cy="857.5" r="2.43" fill="#0000ff"/>
<circle cx="918.5" cy="776.5" r="2.43" fill="#0000ff"/>
<circle cx="935.5" cy="776.5" r="2.43" fill="#0000ff"/>
<circle cx="952.5" cy="849.5" r="2.43" fill="#0000ff"/>
<circle cx="969.5" cy="901.5" r="2.43" fill="#0000ff"/>
<circle cx="985.5" cy="894.5" r="2.43" fill="#0000ff"/>
<circle cx="1002.5" cy="783.5" r="2.43" fill="#0000ff"/>
<circle cx="1019.5" cy="864.5" r="2.43" fill="#0000ff"/>
<circle cx="1036.5" cy="864.5" r="2.43" fill="#0000ff"/>
<circle cx="1052.5" cy="849.5" r="2.43" fill="#0000ff"/>
<circle cx="1069.5" cy="894.5" r="2.43" fill="#0000ff"/>
<line x1="163.5" y1="953.5" x2="1170.5" y2="953.5" stroke="#000" stroke-width="0.694" stroke-dasharray="1.389 4.167"/>
<line x1="163.5" y1="916.5" x2="1170.5" y2="916.5" stroke="#000" stroke-width="0.694" stroke-dasharray="1.389 4.167"/>
<line x1="163.5" y1="879.5" x2="1170.5" y2="879.5" stroke="#000" stroke-width="0.694" stroke-dasharray="1.389 4.167"/>
<line x1="163.5" y1="842.5" x2="1170.5" y2="842.5" stroke="#000" stroke-width="0.694" stroke-dasharray="1.389 4.167"/>
<line x1="163.5" y1="805.5" x2="1170.5" y2="805.5" stroke="#000" stroke-width="0.694" stroke-dasharray="1.389 4.167"/>
<line x1="163.5" y1="768.5" x2="1170.5" y2="768.5" stroke="#000" stroke-width="0.694" stroke-dasharray="1.389 4.167"/>
<rect x="163.5" y="731.5" width="1007.0" height="259.0" fill="none" stroke="#000" stroke-width="1.389"/>
<line x1="330.5" y1="990.5" x2="330.5" y2="984.944" stroke="#000" stroke-width="0.694"/>
<line x1="330.5" y1="731.5" x2="330.5" y2="737.056" stroke="#000" stroke-width="0.694"/>
<line x1="498.5" y1="990.5" x2="498.5" y2="984.944" stroke="#000" stroke-width="0.694"/>
<line x1="498.5" y1="731.5" x2="498.5" y2="737.056" stroke="#000" stroke-width="0.694"/>
<line x1="666.5" y1="990.5" x2="666.5" y2="984.944" stroke="#000" stroke-width="0.694"/>
<line x1="666.5" y1="731.5" x2="666.5" y2="737.056" stroke="#000" stroke-width="0.694"/>
<line x1="834.5" y1="990.5" x2="834.5" y2="984.944" stroke="#000" stroke-width="0.694"/>
<line x1="834.5" y1="731.5" x2="834.5" y2="737.056" stroke="#000" stroke-width="0.694"/>
<line x1="1002.5" y1="990.5" x2="1002.5" y2="984.944" stroke="#000" stroke-width="0.694"/>
<line x1="1002.5" y1="731.5" x2="1002.5" y2="737.056" stroke="#000" stroke-width="0.694"/>
<line x1="163.5" y1="958.5" x2="169.056" y2="958.5" stroke="#000" stroke-width="0.694"/>
<line x1="163.5" y1="925.5" x2="169.056" y2="925.5" stroke="#000" stroke-width="0.694"/>
<line x1="163.5" y1="893.5" x2="169.056" y2="893.5" stroke="#000" stroke-width="0.694"/>
<line x1="163.5" y1="861.5" x2="169.056" y2="861.5" stroke="#000" stroke-width="0.694"/>
<line x1="163.5" y1="828.5" x2="169.056" y2="828.5" stroke="#000" stroke-width="0.694"/>
<line x1="163.5" y1="796.5" x2="169.056" y2="796.5" stroke="#000" stroke-width="0.694"/>
<line x1="163.5" y1="764.5" x2="169.056" y2="764.5" stroke="#000" stroke-width="0.694"/>
<line x1="1170.5" y1="953.5" x2="1164.944" y2="953.5" stroke="#000" stroke-width="0.694"/>
<line x1="1170.5" y1="916.5" x2="1164.944" y2="916.5" stroke="#000" stroke-width="0.694"/>
<line x1="1170.5" y1="879.5" x2="1164.944" y2="879.5" stroke="#000" stroke-width="0.694"/>
<line x1="1170.5" y1="842.5" x2="1164.944" y2="842.5" stroke="#000" stroke-width="0.694"/>
<line x1="1170.5" y1="805.5" x2="1164.944" y2="805.5" stroke="#000" stroke-width="0.694"/>
<line x1="1170.5" y1="768.5" x2="1164.944" y2="768.5" stroke="#000" stroke-width="0.694"/>
<text x="156.00" y="994.90" font-size="17.80" textLength="46.00" lengthAdjust="spacingAndGlyphs" text-anchor="end">0.000</text>
<text x="156.00" y="962.55" font-size="17.80" textLength="46.00" lengthAdjust="spacingAndGlyphs" text-anchor="end">0.002</text>
<text x="156.00" y="930.19" font-size="17.80" textLength="46.00" lengthAdjust="spacingAndGlyphs" text-anchor="end">0.004</text>
<text x="156.00" y="897.84" font-size="17.80" textLength="46.00" lengthAdjust="spacingAndGlyphs" text-anchor="end">0.006</text>
<text x="156.00" y="865.49" font-size="17.80" textLength="46.00" lengthAdjust="spacingAndGlyphs" text-anchor="end">0.008</text>
<text x="156.00" y="833.14" font-size="17.80" textLength="46.00" lengthAdjust="spacingAndGlyphs" text-anchor="end">0.010</text>
<text x="156.00" y="800.78" font-size="17.80" textLength="46.00" lengthAdjust="spacingAndGlyphs" text-anchor="end">0.012</text>
<text x="156.00" y="768.43" font-size="17.80" textLength="46.00" lengthAdjust="spacingAndGlyphs" text-anchor="end">0.014</text>
<text x="156.00" y="736.08" font-size="17.80" textLength="46.00" lengthAdjust="spacingAndGlyphs" text-anchor="end">0.016</text>
<text x="1176.00" y="994.90" font-size="17.80" textLength="24.80" lengthAdjust="spacingAndGlyphs">3.5</text>
<text x="1176.00" y="957.93" font-size="17.80" textLength="24.80" lengthAdjust="spacingAndGlyphs">4.0</text>
<text x="1176.00" y="920.95" font-size="17.80" textLength="24.80" lengthAdjust="spacingAndGlyphs">4.5</text>
<text x="1176.00" y="883.98" font-size="17.80" textLength="24.80" lengthAdjust="spacingAndGlyphs">5.0</text>
<text x="1176.00" y="847.00" font-size="17.80" textLength="24.80" lengthAdjust="spacingAndGlyphs">5.5</text>
<text x="1176.00" y="810.03" font-size="17.80" textLength="24.80" lengthAdjust="spacingAndGlyphs">6.0</text>
<text x="1176.00" y="773.05" font-size="17.80" textLength="24.80" lengthAdjust="spacingAndGlyphs">6.5</text>
<text x="1176.00" y="736.08" font-size="17.80" textLength="24.80" lengthAdjust="spacingAndGlyphs">7.0</text>
<text x="157.45" y="1009.80" font-size="17.80" textLength="9.50" lengthAdjust="spacingAndGlyphs">0</text>
<text x="320.52" y="1009.80" font-size="17.80" textLength="19.20" lengthAdjust="spacingAndGlyphs">10</text>
<text x="488.43" y="1009.80" font-size="17.80" textLength="19.20" lengthAdjust="spacingAndGlyphs">20</text>
<text x="656.35" y="1009.80" font-size="17.80" textLength="19.20" lengthAdjust="spacingAndGlyphs">30</text>
<text x="824.27" y="1009.80" font-size="17.80" textLength="19.20" lengthAdjust="spacingAndGlyphs">40</text>
<text x="992.18" y="1009.80" font-size="17.80" textLength="19.20" lengthAdjust="spacingAndGlyphs">50</text>
<text x="1160.10" y="1009.80" font-size="17.80" textLength="19.20" lengthAdjust="spacingAndGlyphs">60</text>
<text x="97.80" y="986.61" font-size="19.50" textLength="250.25" lengthAdjust="spacingAndGlyphs" transform="rotate(-90 97.80 986.61)">Aceleración máxima V (g)</text>
<text x="1222.00" y="947.04" font-size="18.50" textLength="170.60" lengthAdjust="spacingAndGlyphs" transform="rotate(-90 1222.00 947.04)">Magnitud del evento</text>
<text x="634.60" y="1035.00" font-size="18.00" textLength="64.00" lengthAdjust="spacingAndGlyphs">Eventos</text>
<text x="471.90" y="37.90" font-size="22.80" textLength="357.60" lengthAdjust="spacingAndGlyphs">Aceleraciones máximas en MAN</text>
<rect x="173.5" y="60.5" width="276" height="35" fill="#fff" stroke="#000" stroke-width="1.389"/>
<line x1="180.9" y1="76.5" x2="222.1" y2="76.5" stroke="#000" stroke-width="1.389"/>
<circle cx="201.5" cy="76.5" r="2.43" fill="#000"/>
<text x="237.20" y="82.90" font-size="20.20" textLength="203.80" lengthAdjust="spacingAndGlyphs">Aceleración máxima</text>
<rect x="1029.5" y="60.5" width="166" height="35" fill="#fff" stroke="#000" stroke-width="1.389"/>
<line x1="1037.1" y1="76.5" x2="1078.2" y2="76.5" stroke="#0000ff" stroke-width="1.389"/>
<circle cx="1057.6" cy="76.5" r="2.43" fill="#0000ff"/>
<text x="1092.90" y="83.00" font-size="20.20" textLength="94.20" lengthAdjust="spacingAndGlyphs">Magnitud</text>
</svg></body></html>
